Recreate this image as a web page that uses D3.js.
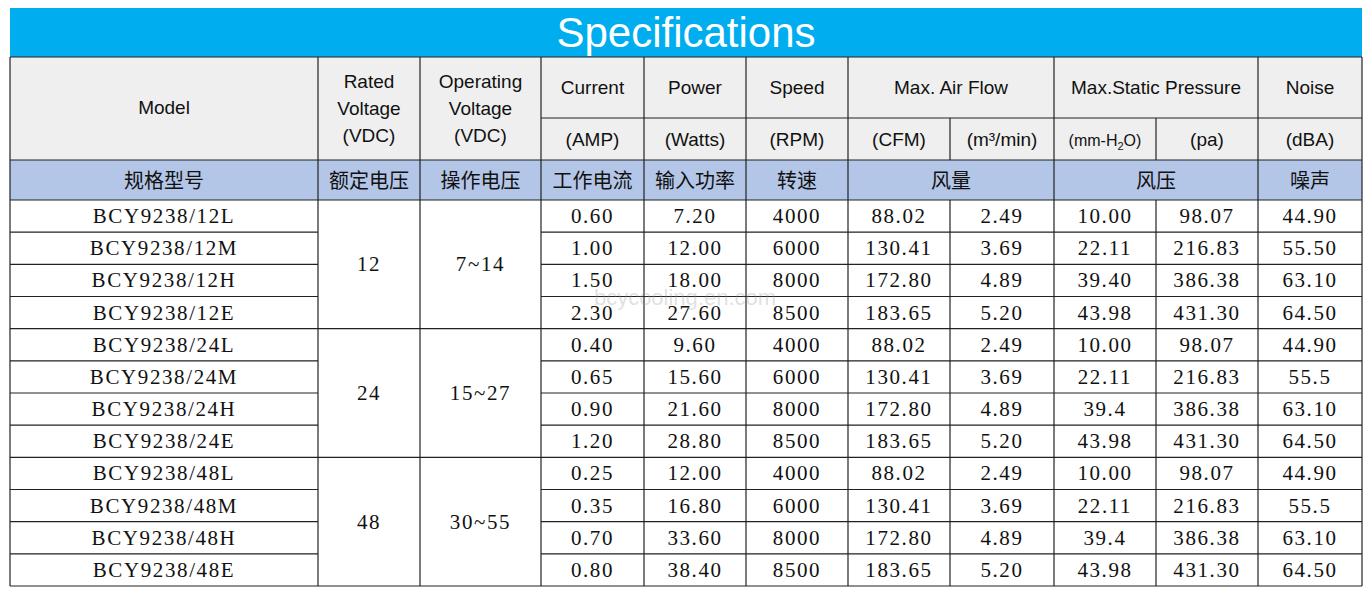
<!DOCTYPE html>
<html><head><meta charset="utf-8">
<script src="https://cdn.jsdelivr.net/npm/d3@7"></script>
<style>body{margin:0;background:#fff}svg{display:block}</style>
</head><body>
<svg id="chart" width="1371" height="598"></svg>
<script>
// table data
const models = ["BCY9238/12L","BCY9238/12M","BCY9238/12H","BCY9238/12E",
  "BCY9238/24L","BCY9238/24M","BCY9238/24H","BCY9238/24E",
  "BCY9238/48L","BCY9238/48M","BCY9238/48H","BCY9238/48E"];
const ratedVoltage = ["12","24","48"];
const operatingVoltage = ["7~14","15~27","30~55"];
const current = ["0.60","1.00","1.50","2.30","0.40","0.65","0.90","1.20","0.25","0.35","0.70","0.80"];
const power = ["7.20","12.00","18.00","27.60","9.60","15.60","21.60","28.80","12.00","16.80","33.60","38.40"];
const speed = ["4000","6000","8000","8500","4000","6000","8000","8500","4000","6000","8000","8500"];
const cfm = ["88.02","130.41","172.80","183.65","88.02","130.41","172.80","183.65","88.02","130.41","172.80","183.65"];
const m3min = ["2.49","3.69","4.89","5.20","2.49","3.69","4.89","5.20","2.49","3.69","4.89","5.20"];
const mmH2O = ["10.00","22.11","39.40","43.98","10.00","22.11","39.4","43.98","10.00","22.11","39.4","43.98"];
const pa = ["98.07","216.83","386.38","431.30","98.07","216.83","386.38","431.30","98.07","216.83","386.38","431.30"];
const noise = ["44.90","55.50","63.10","64.50","44.90","55.5","63.10","64.50","44.90","55.5","63.10","64.50"];
const cnLabels = ["规格型号","额定电压","操作电压","工作电流","输入功率","转速","风量","风压","噪声"];

const svg = d3.select("#chart");
const colEdges = [10,318,420,541,644,746,848,950,1054,1156,1258,1362];
const col = i => colEdges[i], colMid = (a,b) => (colEdges[a]+colEdges[b])/2;
const y = d3.scaleLinear().domain([0,12]).range([200,586]);
const rowH = y(1)-y(0);
const L = colEdges[0], R = colEdges[11];
const sans = "Liberation Sans, Arial, sans-serif";
const serif = "Liberation Serif, serif";
const cjk = "Noto Sans CJK SC, sans-serif";

// title bar
svg.append("rect").attr("x",L).attr("y",8).attr("width",R-L).attr("height",49).attr("fill","#00aeef");
svg.append("text").attr("x",(L+R)/2).attr("y",47).attr("text-anchor","middle")
  .attr("fill","#fff").attr("font-family",sans).attr("font-size",42).text("Specifications");

// header backgrounds
svg.append("rect").attr("x",L).attr("y",57).attr("width",R-L).attr("height",103).attr("fill","#efefef");
svg.append("rect").attr("x",L).attr("y",160).attr("width",R-L).attr("height",40).attr("fill","#b4c6e7");

const g = svg.append("g").attr("stroke","#222").attr("stroke-width",1.2);
const line = (x1,y1,x2,y2) => g.append("line").attr("x1",x1).attr("y1",y1).attr("x2",x2).attr("y2",y2);
// horizontal lines
line(L,57,R,57); line(col(3),118,R,118); line(L,160,R,160); line(L,200,R,200); line(L,586,R,586);
d3.range(1,12).forEach(i => {
  if (i%4===0) line(L,y(i),R,y(i));
  else { line(L,y(i),col(1),y(i)); line(col(3),y(i),R,y(i)); }
});
// vertical lines
[0,1,2,3,4,5,6,8,10,11].forEach(i => line(col(i),57,col(i),586));
[7,9].forEach(i => { line(col(i),118,col(i),160); line(col(i),200,col(i),586); });

function txt(x,yy,s,font,size,fill){
  return svg.append("text").attr("x",x).attr("y",yy).attr("text-anchor","middle")
    .attr("font-family",font).attr("font-size",size).attr("fill",fill||"#111").text(s);
}
// header text
txt(colMid(0,1),114,"Model",sans,19);
[["Rated","Voltage","(VDC)",1,2],["Operating","Voltage","(VDC)",2,3]].forEach(h=>{
  h.slice(0,3).forEach((s,k)=>txt(colMid(h[3],h[4]),88+k*27,s,sans,19));
});
[["Current",3,4],["Power",4,5],["Speed",5,6],["Max. Air Flow",6,8],["Max.Static Pressure",8,10],["Noise",10,11]]
  .forEach(h=>txt(colMid(h[1],h[2]),94,h[0],sans,19));
["(AMP)","(Watts)","(RPM)","(CFM)","(m³/min)",null,"(pa)","(dBA)"].forEach((s,k)=>{
  if (s) txt(colMid(3+k,4+k),146,s,sans,19);
});
const mh = txt(colMid(8,9),146,"",sans,16);
mh.append("tspan").text("(mm-H");
mh.append("tspan").attr("font-size",11).attr("dy",4).text("2");
mh.append("tspan").attr("dy",-4).text("O)");
// chinese row
const cnSpans = [[0,1],[1,2],[2,3],[3,4],[4,5],[5,6],[6,8],[8,10],[10,11]];
cnLabels.forEach((s,k)=>txt(colMid(cnSpans[k][0],cnSpans[k][1]),188,s,cjk,20));

// data rows
const cols = [current,power,speed,cfm,m3min,mmH2O,pa,noise];
function dtxt(x,yy,s){ return txt(x,yy,s,serif,21).attr("letter-spacing",1.6); }
models.forEach((m,i)=>{
  const yy = y(i)+rowH/2+7;
  dtxt(colMid(0,1),yy,m);
  cols.forEach((arr,k)=>dtxt(colMid(3+k,4+k),yy,arr[i]));
});
ratedVoltage.forEach((v,k)=>{
  const yy = y(k*4+2)+7;
  dtxt(colMid(1,2),yy,v);
  dtxt(colMid(2,3),yy,operatingVoltage[k]);
});
// watermark
txt(685,305,"bcycooling.en.com",sans,22,"rgba(150,150,150,0.3)");
</script>
</body></html>
